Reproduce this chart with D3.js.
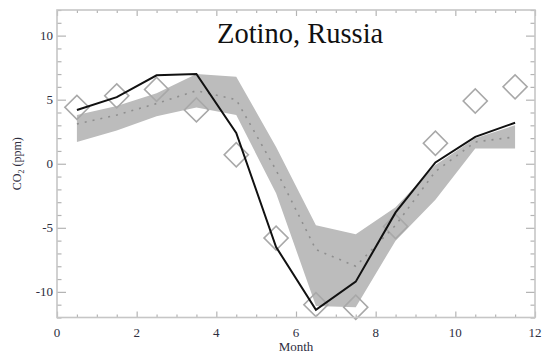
<!DOCTYPE html>
<html>
<head>
<meta charset="utf-8">
<script src="https://cdn.jsdelivr.net/npm/d3@7"></script>
<style>
  body { margin: 0; background: #fff; }
</style>
</head>
<body>
<svg id="chart" width="545" height="353"></svg>
<script>
// Monthly mean seasonal CO2 cycle at Zotino (ppm), plotted at mid-month
const months = [0.5, 1.5, 2.5, 3.5, 4.5, 5.5, 6.5, 7.5, 8.5, 9.5, 10.5, 11.5];
const observed = [4.4, 5.3, 5.8, 4.2, 0.7, -5.8, -11.0, -11.2, -4.9, 1.6, 4.9, 6.0];
const modelRun = [4.2, 5.2, 6.9, 7.0, 2.4, -6.5, -11.4, -9.2, -3.8, 0.1, 2.1, 3.2];
const ensembleMean = [3.1, 3.8, 4.7, 5.7, 5.0, -0.5, -6.7, -8.0, -4.8, -0.6, 1.7, 2.1];
const ensembleHigh = [3.8, 4.5, 5.5, 7.0, 6.8, 1.3, -4.8, -5.5, -3.4, -0.1, 2.0, 3.0];
const ensembleLow = [1.7, 2.6, 3.7, 4.4, 3.8, -2.3, -11.1, -11.2, -6.0, -2.8, 1.2, 1.2];

const xMajorTicks = [0, 2, 4, 6, 8, 10, 12];
const yMajorTicks = [-10, -5, 0, 5, 10];

const svg = d3.select("#chart");
const plotLeft = 57, plotRight = 535, plotTop = 10, plotBottom = 317.5;
const serif = "'Liberation Serif', 'Times New Roman', 'DejaVu Serif', serif";

const x = d3.scaleLinear().domain([0, 12]).range([plotLeft, plotRight]);
const y = d3.scaleLinear().domain([-12, 12]).range([plotBottom, plotTop]);

const frameColor = "#c6c6c6";
const tickColor = "#b4b4b4";
const labelColor = "#2e2e3e";

// Spread band
const band = d3.area()
  .x((d, i) => x(months[i]))
  .y0((d, i) => y(ensembleLow[i]))
  .y1((d, i) => y(ensembleHigh[i]));
svg.append("path")
  .datum(months)
  .attr("d", band)
  .attr("fill", "#bcbcbc");

// Observations: open diamonds
const diamond = d3.symbol().type(d3.symbolSquare).size(290);
svg.append("g").selectAll("path")
  .data(observed)
  .join("path")
  .attr("d", diamond)
  .attr("transform", (d, i) => `translate(${x(months[i])},${y(d)}) rotate(45)`)
  .attr("fill", "none")
  .attr("stroke", "#a8a8a8")
  .attr("stroke-width", 1.6);

// Ensemble mean (dotted)
const line = d3.line().x(d => x(d[0])).y(d => y(d[1]));
svg.append("path")
  .datum(months.map((m, i) => [m, ensembleMean[i]]))
  .attr("d", line)
  .attr("fill", "none")
  .attr("stroke", "#8e8e8e")
  .attr("stroke-width", 1.6)
  .attr("stroke-dasharray", "2,6");

// Single model run (solid black)
svg.append("path")
  .datum(months.map((m, i) => [m, modelRun[i]]))
  .attr("d", line)
  .attr("fill", "none")
  .attr("stroke", "#111")
  .attr("stroke-width", 2);

// Axes with inward ticks on all four sides
function styleAxis(g) {
  g.select(".domain").remove();
  g.selectAll(".tick line").attr("stroke", tickColor).attr("stroke-width", 1.2);
}
const xMinor = d3.range(0, 12.01, 0.5).filter(v => v % 2 !== 0);
const yMinor = d3.range(-12, 12.01, 1).filter(v => v % 5 !== 0);

function addAxis(axis, tx, ty) {
  svg.append("g").attr("transform", `translate(${tx},${ty})`).call(axis).call(styleAxis);
}
addAxis(d3.axisBottom(x).tickValues(xMajorTicks).tickSize(-6).tickFormat(""), 0, plotBottom);
addAxis(d3.axisBottom(x).tickValues(xMinor).tickSize(-3).tickFormat(""), 0, plotBottom);
addAxis(d3.axisTop(x).tickValues(xMajorTicks).tickSize(-6).tickFormat(""), 0, plotTop);
addAxis(d3.axisTop(x).tickValues(xMinor).tickSize(-3).tickFormat(""), 0, plotTop);
addAxis(d3.axisLeft(y).tickValues(yMajorTicks).tickSize(-9).tickFormat(""), plotLeft, 0);
addAxis(d3.axisLeft(y).tickValues(yMinor).tickSize(-4.5).tickFormat(""), plotLeft, 0);
addAxis(d3.axisRight(y).tickValues(yMajorTicks).tickSize(-9).tickFormat(""), plotRight, 0);
addAxis(d3.axisRight(y).tickValues(yMinor).tickSize(-4.5).tickFormat(""), plotRight, 0);

// Plot frame
svg.append("rect")
  .attr("x", plotLeft).attr("y", plotTop)
  .attr("width", plotRight - plotLeft).attr("height", plotBottom - plotTop)
  .attr("fill", "none")
  .attr("stroke", frameColor)
  .attr("stroke-width", 1.6);

// Tick labels
svg.append("g").selectAll("text")
  .data(xMajorTicks)
  .join("text")
  .attr("x", d => x(d))
  .attr("y", 337)
  .attr("text-anchor", "middle")
  .attr("font-family", serif)
  .attr("font-size", 13)
  .attr("fill", labelColor)
  .text(d => d);
svg.append("g").selectAll("text")
  .data(yMajorTicks)
  .join("text")
  .attr("x", plotLeft - 4)
  .attr("y", d => y(d))
  .attr("dy", "0.35em")
  .attr("text-anchor", "end")
  .attr("font-family", serif)
  .attr("font-size", 13)
  .attr("fill", labelColor)
  .text(d => d);

// Axis titles
svg.append("text")
  .attr("x", x(6))
  .attr("y", 351)
  .attr("text-anchor", "middle")
  .attr("font-family", serif)
  .attr("font-size", 13)
  .attr("fill", labelColor)
  .text("Month");

const yTitle = svg.append("text")
  .attr("transform", `translate(21,${y(0)}) rotate(-90)`)
  .attr("text-anchor", "middle")
  .attr("font-family", serif)
  .attr("font-size", 12)
  .attr("fill", labelColor);
yTitle.append("tspan").text("CO");
yTitle.append("tspan").attr("font-size", 8).attr("dy", 3).text("2");
yTitle.append("tspan").attr("dy", -3).text(" (ppm)");

// Site title
svg.append("text")
  .attr("x", 217)
  .attr("y", 43)
  .attr("font-family", serif)
  .attr("font-size", 28.5)
  .attr("fill", "#111")
  .text("Zotino, Russia");
</script>
</body>
</html>
